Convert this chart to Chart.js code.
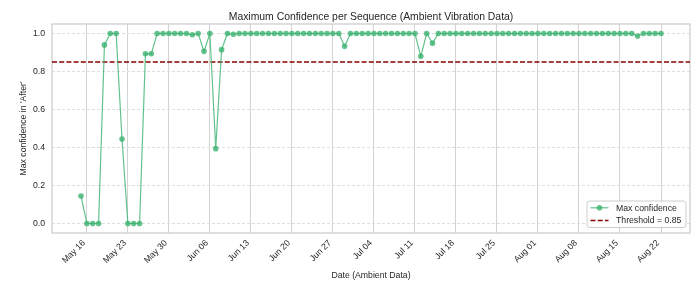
<!DOCTYPE html>
<html>
<head>
<meta charset="utf-8">
<script src="https://cdn.jsdelivr.net/npm/chart.js@4.4.1/dist/chart.umd.min.js"></script>
<style>
  html, body { margin: 0; padding: 0; background: #fff; }
</style>
</head>
<body>
<canvas id="chart" width="700" height="301"></canvas>
<script>
// ---- data (one value per day, May 15 .. Aug 22) ----
const firstDay = Date.UTC(2024, 4, 15);

const maxConfidence = [
  0.145, 0, 0, 0, 0.94, 1.0, 1.0, 0.445, 0, 0,
  0, 0.893, 0.893, 1.0, 1.0, 1.0, 1.0, 1.0, 1.0, 0.993,
  1.0, 0.906, 1.0, 0.394, 0.915, 1.0, 0.996, 1.0, 1.0, 1.0,
  1.0, 1.0, 1.0, 1.0, 1.0, 1.0, 1.0, 1.0, 1.0, 1.0,
  1.0, 1.0, 1.0, 1.0, 1.0, 0.933, 1.0, 1.0, 1.0, 1.0,
  1.0, 1.0, 1.0, 1.0, 1.0, 1.0, 1.0, 1.0, 0.88, 1.0,
  0.949, 1.0, 1.0, 1.0, 1.0, 1.0, 1.0, 1.0, 1.0, 1.0,
  1.0, 1.0, 1.0, 1.0, 1.0, 1.0, 1.0, 1.0, 1.0, 1.0,
  1.0, 1.0, 1.0, 1.0, 1.0, 1.0, 1.0, 1.0, 1.0, 1.0,
  1.0, 1.0, 1.0, 1.0, 1.0, 0.987, 1.0, 1.0, 1.0, 1.0
];

const tickLabels = ['May 16', 'May 23', 'May 30', 'Jun 06', 'Jun 13', 'Jun 20', 'Jun 27',
  'Jul 04', 'Jul 11', 'Jul 18', 'Jul 25', 'Aug 01', 'Aug 08', 'Aug 15', 'Aug 22'];
const yTicks = [0, 0.2, 0.4, 0.6, 0.8, 1.0];
const threshold = 0.85;

// ---- derived ----
const MONTHS = ['Jan', 'Feb', 'Mar', 'Apr', 'May', 'Jun', 'Jul', 'Aug', 'Sep', 'Oct', 'Nov', 'Dec'];
const dayLabels = maxConfidence.map((_, i) => {
  const d = new Date(firstDay + i * 86400000);
  return MONTHS[d.getUTCMonth()] + ' ' + String(d.getUTCDate()).padStart(2, '0');
});
const xTicks = tickLabels.map(l => dayLabels.indexOf(l));
const xPad = (maxConfidence.length - 1) * 0.05;
const xMin = -xPad;
const xMax = maxConfidence.length - 1 + xPad;

const GREEN = 'rgba(60,179,113,0.8)';
const RED = '#8b0000';
const TEXT = '#262626';
const FONT = "'Liberation Sans', Arial, sans-serif";

Chart.defaults.font.family = FONT;
Chart.defaults.color = TEXT;

// light grey box round the plot area
const framePlugin = {
  id: 'frame',
  beforeDatasetsDraw(chart) {
    const { ctx, chartArea: a } = chart;
    ctx.save();
    ctx.strokeStyle = '#cccccc';
    ctx.lineWidth = 1.25;
    ctx.strokeRect(a.left, a.top, a.right - a.left, a.bottom - a.top);
    ctx.restore();
  }
};

// legend in the lower right corner, inside the plot
const legendPlugin = {
  id: 'innerLegend',
  afterDraw(chart) {
    const { ctx, chartArea: a } = chart;
    const ds = chart.data.datasets;
    const w = 99, h = 26.5;
    const x = a.right - 4 - w, y = a.bottom - 5.5 - h;
    ctx.save();
    ctx.beginPath();
    ctx.roundRect(x, y, w, h, 2.5);
    ctx.fillStyle = 'rgba(255,255,255,0.8)';
    ctx.fill();
    ctx.strokeStyle = '#cccccc';
    ctx.lineWidth = 1;
    ctx.stroke();

    ctx.font = '8.7px ' + FONT;
    ctx.textBaseline = 'middle';
    ctx.fillStyle = TEXT;
    ds.forEach((d, i) => {
      const cy = y + 6.8 + i * 12.6;
      ctx.beginPath();
      ctx.setLineDash(d.borderDash || []);
      ctx.strokeStyle = d.borderColor;
      ctx.lineWidth = d.borderWidth;
      ctx.moveTo(x + 3.5, cy);
      ctx.lineTo(x + 21.5, cy);
      ctx.stroke();
      ctx.setLineDash([]);
      if (d.pointRadius) {
        ctx.beginPath();
        ctx.arc(x + 12.5, cy, d.pointRadius, 0, Math.PI * 2);
        ctx.fillStyle = d.pointBackgroundColor;
        ctx.fill();
      }
      ctx.fillStyle = TEXT;
      ctx.fillText(d.label, x + 29, cy + 0.5);
    });
    ctx.restore();
  }
};

new Chart(document.getElementById('chart'), {
  type: 'line',
  data: {
    datasets: [
      {
        label: 'Max confidence',
        data: maxConfidence.map((v, i) => ({ x: i, y: v })),
        borderColor: GREEN,
        backgroundColor: GREEN,
        pointBackgroundColor: GREEN,
        borderWidth: 1.2,
        pointRadius: 2.8,
        pointBorderWidth: 0,
        tension: 0,
        fill: false
      },
      {
        label: 'Threshold = 0.85',
        data: [{ x: xMin, y: threshold }, { x: xMax, y: threshold }],
        borderColor: RED,
        borderWidth: 1.5,
        borderDash: [5, 2.2],
        pointRadius: 0,
        fill: false
      }
    ]
  },
  options: {
    responsive: false,
    animation: false,
    devicePixelRatio: 1,
    layout: { padding: { left: 0, right: 10, top: 0, bottom: 0 } },
    plugins: {
      legend: { display: false },
      tooltip: { enabled: false },
      title: {
        display: true,
        fullSize: false,
        text: 'Maximum Confidence per Sequence (Ambient Vibration Data)',
        color: TEXT,
        font: { size: 10.4, weight: 'normal' },
        padding: { top: 10.8, bottom: 0.7 }
      }
    },
    scales: {
      x: {
        type: 'linear',
        min: xMin,
        max: xMax,
        afterBuildTicks: s => { s.ticks = xTicks.map(v => ({ value: v })); },
        afterFit: s => { s.height = 68; },
        ticks: {
          autoSkip: false,
          minRotation: 45,
          maxRotation: 45,
          padding: 5,
          labelOffset: -3,
          color: TEXT,
          font: { size: 8.7 },
          callback: v => dayLabels[v]
        },
        grid: { color: '#d3d3d3', lineWidth: 1, drawTicks: false },
        border: { display: false },
        title: {
          display: true,
          text: 'Date (Ambient Data)',
          color: TEXT,
          font: { size: 8.7 },
          padding: { top: 0, bottom: 19.8 }
        }
      },
      y: {
        min: -0.05,
        max: 1.05,
        afterBuildTicks: s => { s.ticks = yTicks.map(v => ({ value: v })); },
        afterFit: s => { s.width = 52; },
        ticks: {
          padding: 7,
          color: TEXT,
          font: { size: 8.7 },
          callback: v => v.toFixed(1)
        },
        grid: { color: '#dedede', lineWidth: 1, drawTicks: false },
        border: { display: false, dash: [3, 2] },
        title: {
          display: true,
          text: "Max confidence in 'After'",
          color: TEXT,
          font: { size: 8.7 },
          padding: { top: 18.8, bottom: 0 }
        }
      }
    }
  },
  plugins: [framePlugin, legendPlugin]
});
</script>
</body>
</html>
